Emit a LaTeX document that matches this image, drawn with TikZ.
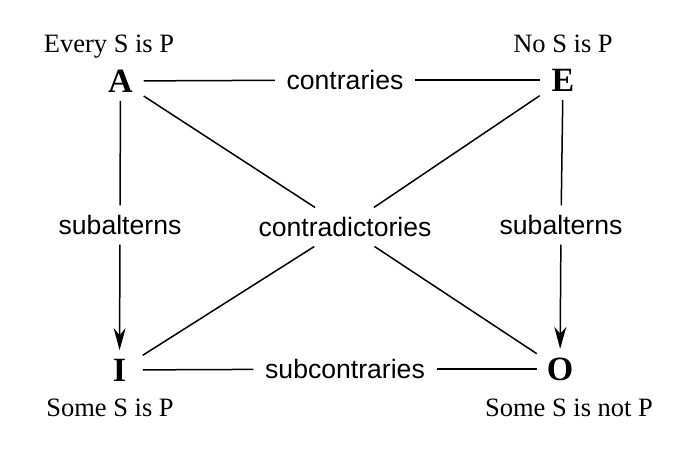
\documentclass[tikz,border=0pt]{standalone}
\usepackage{fontspec}
\setmainfont{Liberation Serif}
\setsansfont{Liberation Sans}
\usetikzlibrary{arrows.meta}

\begin{document}
\begin{tikzpicture}[x=1pt, y=-1pt, line width=1.5pt,
    corner/.style={font=\fontsize{34}{34}\selectfont\bfseries, minimum width=45pt, inner xsep=0pt, inner ysep=8pt},
    relation/.style={font=\fontsize{26.6}{30}\selectfont\sffamily, inner xsep=11pt, inner ysep=9pt},
    caption/.style={font=\fontsize{26.5}{30}\selectfont, anchor=base},
    sub/.style={-{Stealth[length=22pt, width=12pt, inset=7pt]}}]
    \useasboundingbox (0, 0) rectangle (683, 449);

    % Ecken
    \node[corner] (A) at (120.5, 81) {A};
    \node[corner] (E) at (563, 80) {E};
    \node[corner] (I) at (119.5, 370) {I};
    \node[corner] (O) at (560, 369) {O};

    \node[caption] (every) at (109, 52.5) {Every S is P};
    \node[caption] (no) at (563, 52.5) {No S is P};
    \node[caption] (some) at (110, 416) {Some S is P};
    \node[caption] (somenot) at (569, 416) {Some S is not P};

    % Beziehungen
    \node[relation] (contraries) at (345, 80) {contraries};
    \node[relation] (subcontraries) at (345, 369) {subcontraries};
    \node[relation] (subAI) at (120, 225) {subalterns};
    \node[relation] (subEO) at (561, 225) {subalterns};
    \node[relation] (contradictories) at (345, 227) {contradictories};

    % Linien
    \draw (A) -- (contraries);
    \draw (contraries) -- (E);
    \draw (I) -- (subcontraries);
    \draw (subcontraries) -- (O);

    \draw (A) -- (subAI);
    \draw[sub] (subAI) -- (I);
    \draw (E) -- (subEO);
    \draw[sub] (subEO) -- (O);

    \draw (A) -- (contradictories);
    \draw (contradictories) -- (O);
    \draw (E) -- (contradictories);
    \draw (contradictories) -- (I);
\end{tikzpicture}
\end{document}
